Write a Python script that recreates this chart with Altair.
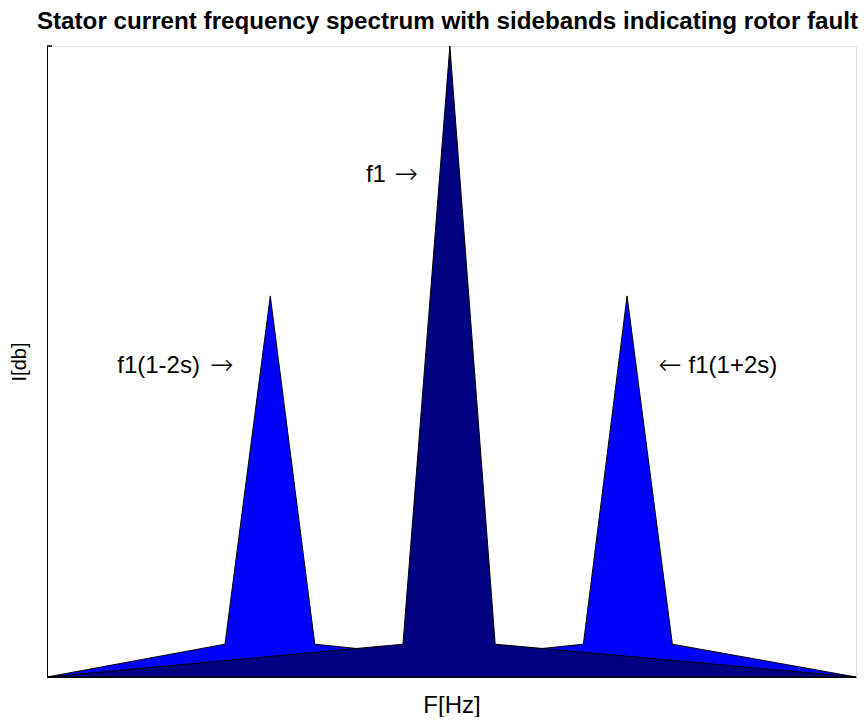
import altair as alt
import pandas as pd

# Sideband spectrum (blue) and fundamental (navy)
side_f = [0, 22.0, 27.6, 33.1, 49.8, 66.3, 71.7, 77.3, 100]
side_i = [0, 5.2, 60.4, 5.2, 3.0, 5.2, 60.4, 5.2, 0]
main_f = [0, 44.0, 49.8, 55.4, 100]
main_i = [0, 5.2, 100, 5.2, 0]

# Annotations: text part and arrow part
label_text = ["f1(1-2s)", "f1", "f1(1+2s)"]
label_f = [18.9, 41.9, 79.3]
label_i = [49.3, 79.6, 49.3]
label_align = ["right", "right", "left"]
arrow_text = ["\u2192", "\u2192", "\u2190"]
arrow_f = [21.6, 44.4, 77.0]
arrow_i = [49.3, 79.6, 49.3]

side = pd.DataFrame({"f": side_f, "i": side_i})
main = pd.DataFrame({"f": main_f, "i": main_i})
labels = pd.DataFrame({"f": label_f, "i": label_i, "t": label_text, "a": label_align})
arrows = pd.DataFrame({"f": arrow_f, "i": arrow_i, "t": arrow_text})

xs = alt.Scale(domain=[0, 100], nice=False, zero=False)
ys = alt.Scale(domain=[0, 100], nice=False, zero=False)

x_axis = alt.Axis(title="F[Hz]", labels=False, ticks=False, grid=False,
                  domainColor="black", domainWidth=1, titleFontSize=24,
                  titleFontWeight="normal", titleFont="Liberation Sans",
                  titlePadding=16, titleColor="black")
y_axis = alt.Axis(title="I[db]", labels=False, ticks=False, grid=False,
                  domainColor="black", domainWidth=1, titleFontSize=20,
                  titleFontWeight="normal", titleFont="Liberation Sans",
                  titlePadding=18, titleColor="black")

blue = alt.Chart(side).mark_area(color="#0000FF", stroke="black", strokeWidth=1, opacity=1).encode(
    x=alt.X("f:Q", scale=xs, axis=x_axis),
    y=alt.Y("i:Q", scale=ys, axis=y_axis, stack=None),
)
navy = alt.Chart(main).mark_area(color="#000080", stroke="black", strokeWidth=1, opacity=1).encode(
    x=alt.X("f:Q", scale=xs),
    y=alt.Y("i:Q", scale=ys, stack=None),
)

text_l = alt.Chart(labels[labels.a == "right"]).mark_text(
    fontSize=24, font="Liberation Sans", color="black", baseline="middle", align="right").encode(
    x=alt.X("f:Q", scale=xs), y=alt.Y("i:Q", scale=ys), text="t:N")
text_r = alt.Chart(labels[labels.a == "left"]).mark_text(
    fontSize=24, font="Liberation Sans", color="black", baseline="middle", align="left").encode(
    x=alt.X("f:Q", scale=xs), y=alt.Y("i:Q", scale=ys), text="t:N")
arrow = alt.Chart(arrows).mark_text(
    fontSize=28, font="DejaVu Sans", fontWeight=200, color="black", baseline="middle",
    align="center").encode(
    x=alt.X("f:Q", scale=xs), y=alt.Y("i:Q", scale=ys), text="t:N")

tick = alt.Chart(pd.DataFrame({"i": [100]})).mark_rule(color="black", strokeWidth=1.5).encode(
    y=alt.Y("i:Q", scale=ys), x=alt.value(0), x2=alt.value(5))

chart = alt.layer(blue, navy, text_l, text_r, arrow, tick).properties(
    width=809, height=631,
    autosize=alt.AutoSizeParams(type="none"),
    padding={"left": 39, "top": 38, "right": 3, "bottom": 40},
    title=alt.TitleParams(
        "Stator current frequency spectrum with sidebands indicating rotor fault",
        fontSize=24.2, font="Liberation Sans", fontWeight="bold", color="black",
        anchor="middle", offset=10, dx=-4),
).configure_view(stroke=None).configure(background="white")

chart.save("out.html", embed_options={"renderer": "svg", "actions": False})
